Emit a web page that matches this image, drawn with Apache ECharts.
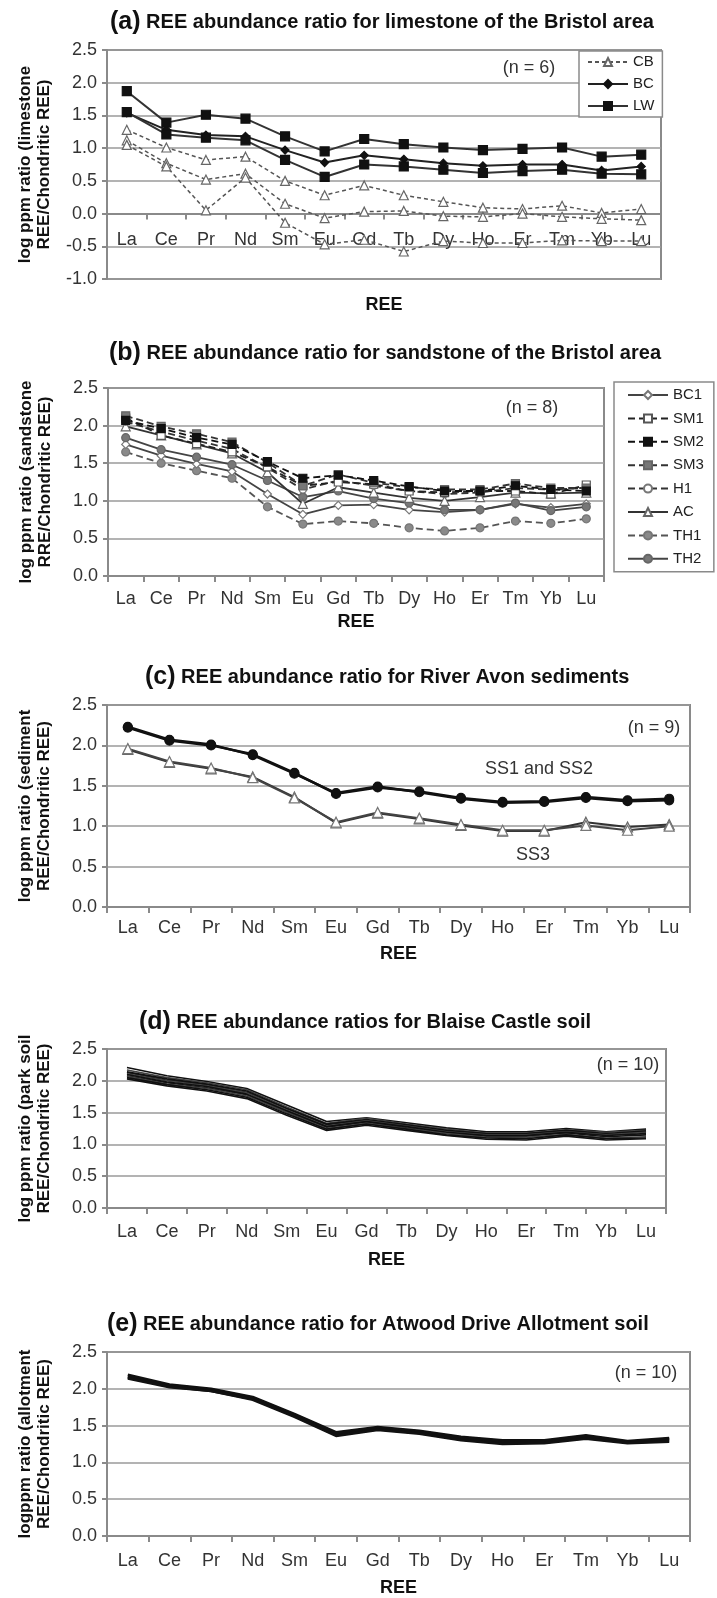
<!DOCTYPE html>
<html><head><meta charset="utf-8">
<script src="https://cdn.jsdelivr.net/npm/echarts@6/dist/echarts.min.js"></script>
<style>html,body{margin:0;padding:0;background:#fff}#c{width:717px;height:1598px}</style>
</head><body><div id="c"></div>
<script>
const categories = ['La','Ce','Pr','Nd','Sm','Eu','Gd','Tb','Dy','Ho','Er','Tm','Yb','Lu'];

// (a) limestone
const limeCB1 = [1.28,1.01,0.82,0.87,0.50,0.28,0.43,0.28,0.18,0.09,0.07,0.12,0.01,0.07];
const limeCB2 = [1.12,0.77,0.52,0.61,0.15,-0.07,0.03,0.04,-0.04,-0.05,0.00,-0.05,-0.08,-0.10];
const limeCB3 = [1.05,0.72,0.05,0.55,-0.14,-0.47,-0.40,-0.58,-0.42,-0.45,-0.45,-0.41,-0.42,-0.42];
const limeBC  = [1.54,1.28,1.20,1.18,0.97,0.78,0.89,0.83,0.77,0.73,0.75,0.75,0.66,0.72];
const limeLW1 = [1.87,1.39,1.51,1.45,1.18,0.95,1.14,1.06,1.01,0.97,0.99,1.01,0.87,0.90];
const limeLW2 = [1.55,1.21,1.16,1.12,0.82,0.56,0.75,0.72,0.67,0.62,0.65,0.67,0.61,0.60];

// (b) sandstone
const sandBC1 = [1.75,1.60,1.49,1.39,1.09,0.82,0.94,0.95,0.88,0.85,0.88,0.96,0.91,0.96];
const sandSM1 = [2.10,1.87,1.76,1.65,1.45,1.20,1.25,1.22,1.13,1.11,1.13,1.13,1.09,1.21];
const sandSM2 = [2.07,1.96,1.84,1.75,1.52,1.30,1.34,1.27,1.19,1.13,1.13,1.20,1.15,1.13];
const sandSM3 = [2.13,1.99,1.89,1.78,1.51,1.20,1.35,1.24,1.18,1.15,1.15,1.23,1.17,1.17];
const sandH1  = [2.05,1.92,1.80,1.69,1.44,1.15,1.27,1.20,1.13,1.09,1.11,1.17,1.15,1.17];
const sandAC  = [1.99,1.87,1.75,1.63,1.38,0.96,1.18,1.11,1.04,1.00,1.05,1.11,1.10,1.11];
const sandTH1 = [1.65,1.50,1.40,1.30,0.92,0.69,0.73,0.70,0.64,0.60,0.64,0.73,0.70,0.76];
const sandTH2 = [1.84,1.68,1.58,1.48,1.27,1.05,1.13,1.03,0.97,0.88,0.88,0.97,0.87,0.92];

// (c) River Avon sediments
const sedSS1  = [2.22,2.06,2.00,1.89,1.66,1.40,1.48,1.43,1.35,1.30,1.31,1.36,1.32,1.34];
const sedSS2  = [2.23,2.07,2.01,1.88,1.65,1.41,1.49,1.42,1.34,1.29,1.30,1.35,1.31,1.32];
const sedSS3a = [1.95,1.79,1.71,1.61,1.36,1.04,1.16,1.09,1.01,0.94,0.94,1.05,0.99,1.02];
const sedSS3b = [1.96,1.80,1.72,1.60,1.35,1.05,1.17,1.10,1.02,0.95,0.95,1.01,0.95,1.00];

// (d) Blaise Castle soil
const parkD1  = [2.21,2.08,1.99,1.88,1.62,1.36,1.42,1.34,1.26,1.20,1.20,1.25,1.20,1.24];
const parkD2  = [2.17,2.05,1.97,1.86,1.59,1.33,1.41,1.32,1.24,1.18,1.18,1.23,1.19,1.22];
const parkD3  = [2.14,2.03,1.95,1.84,1.57,1.32,1.39,1.31,1.22,1.17,1.17,1.22,1.17,1.21];
const parkD4  = [2.13,2.01,1.94,1.82,1.56,1.31,1.38,1.30,1.21,1.16,1.16,1.21,1.16,1.20];
const parkD5  = [2.11,2.00,1.92,1.81,1.54,1.29,1.37,1.29,1.20,1.15,1.15,1.20,1.15,1.19];
const parkD6  = [2.10,1.98,1.91,1.79,1.53,1.28,1.36,1.28,1.19,1.14,1.14,1.19,1.14,1.17];
const parkD7  = [2.08,1.97,1.89,1.78,1.51,1.27,1.35,1.26,1.18,1.13,1.13,1.18,1.12,1.15];
const parkD8  = [2.07,1.95,1.88,1.76,1.50,1.25,1.33,1.25,1.17,1.11,1.11,1.16,1.10,1.12];
const parkD9  = [2.05,1.94,1.86,1.74,1.48,1.24,1.32,1.24,1.15,1.10,1.09,1.15,1.09,1.10];
const parkD10 = [2.03,1.92,1.84,1.72,1.46,1.22,1.30,1.22,1.14,1.08,1.07,1.13,1.07,1.09];

// (e) Atwood Drive Allotment soil
const allotE1 = [2.19,2.06,2.00,1.89,1.66,1.41,1.48,1.43,1.35,1.30,1.30,1.37,1.29,1.33];
const allotE2 = [2.17,2.05,1.99,1.88,1.65,1.40,1.47,1.42,1.34,1.29,1.29,1.36,1.28,1.32];
const allotE3 = [2.16,2.04,1.98,1.87,1.64,1.39,1.46,1.41,1.33,1.28,1.28,1.35,1.28,1.31];
const allotE4 = [2.15,2.03,1.97,1.86,1.63,1.37,1.45,1.40,1.31,1.26,1.27,1.33,1.27,1.29];
const allotE5 = [2.14,2.02,1.97,1.85,1.62,1.36,1.44,1.39,1.30,1.25,1.26,1.32,1.26,1.28];

const panelTitles = [
  ['(a)', 'REE abundance ratio for limestone of the Bristol area'],
  ['(b)', 'REE abundance ratio for sandstone of the Bristol area'],
  ['(c)', 'REE abundance ratio for River Avon sediments'],
  ['(d)', 'REE abundance ratios for Blaise Castle soil'],
  ['(e)', 'REE abundance ratio for Atwood Drive Allotment soil']
];
const yNames = [
  'log ppm ratio (limestone\nREE/Chondritic REE)',
  'log ppm ratio (sandstone\nRRE/Chondritic REE)',
  'log ppm ratio (sediment\nREE/Chondritic REE)',
  'log ppm ratio (park soil\nREE/Chondritic REE)',
  'logppm ratio (allotment\nREE/Chondritic REE)'
];
const yMins = [-1, 0, 0, 0, 0];
const yMax = 2.5;
const xName = 'REE';
const nLabels = ['(n = 6)', '(n = 8)', '(n = 9)', '(n = 10)', '(n = 10)'];

// ---- layout (pixels) ----
const FONT = "'Liberation Sans', Arial, sans-serif";
const grids = [
  {left:107, top:50,   width:554, height:229},
  {left:108, top:388,  width:496, height:188},
  {left:107, top:705,  width:583, height:202},
  {left:107, top:1049, width:559, height:159},
  {left:107, top:1352, width:583, height:185}
];
const titlePos = [[110,8],[109,339],[145,663],[139,1008],[107,1310]];
const xNameGap = [17, 37, 38, 43, 43];
const xLabelMargin = [-48, 14, 12, 15, 16];
const nPos = [[529,68],[532,408],[654,728],[628,1065],[646,1373]];

const GRID_C = '#8a8a8a';

const option = {
  animation: false,
  backgroundColor: '#fff',
  textStyle: {fontFamily: FONT},
  title: panelTitles.map((t, i) => ({
    text: '{p|' + t[0] + '} ' + t[1],
    left: titlePos[i][0], top: titlePos[i][1], padding: 0,
    textStyle: {fontSize: 20, fontWeight: 'bold', color: '#111', fontFamily: FONT, lineHeight: 28,
      rich: {p: {fontSize: 25, fontWeight: 'bold', color: '#111', fontFamily: FONT, lineHeight: 28}}}
  })),
  grid: grids.map(g => Object.assign({show: true, borderColor: GRID_C, borderWidth: 2, backgroundColor: '#fff', containLabel: false}, g)),
  xAxis: grids.map((g, i) => ({
    type: 'category', gridIndex: i, data: categories, boundaryGap: true,
    name: xName, nameLocation: 'middle', nameGap: xNameGap[i],
    nameTextStyle: {fontSize: 18, fontWeight: 'bold', color: '#111', fontFamily: FONT},
    axisLine: {show: true, onZero: true, lineStyle: {color: GRID_C, width: 2}},
    axisTick: {show: true, inside: false, length: 6, lineStyle: {color: GRID_C, width: 2}},
    axisLabel: {interval: 0, margin: xLabelMargin[i], fontSize: 18, color: '#333', fontFamily: FONT},
    splitLine: {show: false}
  })),
  yAxis: grids.map((g, i) => ({
    type: 'value', gridIndex: i, min: yMins[i], max: yMax, interval: 0.5,
    name: yNames[i], nameLocation: 'middle', nameGap: 53,
    nameTextStyle: {fontSize: 17, fontWeight: 'bold', color: '#111', lineHeight: 19, fontFamily: FONT},
    axisLine: {show: true, lineStyle: {color: GRID_C, width: 2}},
    axisTick: {show: true, length: 5, lineStyle: {color: GRID_C, width: 2}},
    axisLabel: {margin: 10, fontSize: 18, color: '#333', fontFamily: FONT, formatter: v => v.toFixed(1)},
    splitLine: {show: true, lineStyle: {color: '#9a9a9a', width: 1.5}}
  })),
  legend: [
    {
      data: ['CB', 'BC', 'LW'], orient: 'vertical', left: 579, top: 51,
      padding: [3, 8, 3, 8], itemGap: 6, itemWidth: 40, itemHeight: 10,
      backgroundColor: '#fff', borderColor: GRID_C, borderWidth: 1.5, selectedMode: false,
      textStyle: {fontSize: 15, color: '#222', lineHeight: 16, fontFamily: FONT}
    },
    {
      data: ['BC1', 'SM1', 'SM2', 'SM3', 'H1', 'AC', 'TH1', 'TH2'], orient: 'vertical', left: 614, top: 382,
      padding: [5, 10, 5, 13], itemGap: 7.4, itemWidth: 40, itemHeight: 10,
      backgroundColor: '#fff', borderColor: GRID_C, borderWidth: 1.5, selectedMode: false,
      textStyle: {fontSize: 15, color: '#222', lineHeight: 16, fontFamily: FONT}
    }
  ],
  graphic: nLabels.map((t, i) => ({
    type: 'text', x: nPos[i][0], y: nPos[i][1], z: 100,
    style: {text: t, fontSize: 18, fontFamily: FONT, fill: '#333', align: 'center', verticalAlign: 'middle'}
  })).concat([
    {type: 'text', x: 539, y: 769, z: 100, style: {text: 'SS1 and SS2', fontSize: 18, fontFamily: FONT, fill: '#333', align: 'center', verticalAlign: 'middle'}},
    {type: 'text', x: 533, y: 855, z: 100, style: {text: 'SS3', fontSize: 18, fontFamily: FONT, fill: '#333', align: 'center', verticalAlign: 'middle'}}
  ]),
  series: []
};

function S(name, data, gi, lineColor, lineWidth, lineType, symbol, symbolSize, fill, border) {
  return {
    type: 'line', name: name, data: data, xAxisIndex: gi, yAxisIndex: gi,
    symbol: symbol, symbolSize: symbolSize, showSymbol: symbol !== 'none',
    lineStyle: {color: lineColor, width: lineWidth, type: lineType},
    itemStyle: {color: fill, borderColor: border, borderWidth: symbol === 'none' ? 0 : 1.2, opacity: 1},
    emphasis: {disabled: true}, silent: true, z: 3
  };
}
const dashCB = [4, 3];
const dashB = [7, 4];
option.series.push(
  S('CB', limeCB1, 0, '#555', 1.5, dashCB, 'triangle', 9, '#fff', '#666'),
  S('CB', limeCB2, 0, '#555', 1.5, dashCB, 'triangle', 9, '#fff', '#666'),
  S('CB', limeCB3, 0, '#555', 1.5, dashCB, 'triangle', 9, '#fff', '#666'),
  S('BC', limeBC, 0, '#222', 2, 'solid', 'diamond', 8, '#111', '#111'),
  S('LW', limeLW1, 0, '#333', 2, 'solid', 'rect', 9, '#111', '#111'),
  S('LW', limeLW2, 0, '#333', 2, 'solid', 'rect', 9, '#111', '#111'),

  S('TH1', sandTH1, 1, '#555', 1.8, dashB, 'circle', 8, '#8a8a8a', '#777'),
  S('BC1', sandBC1, 1, '#444', 1.8, 'solid', 'diamond', 8, '#fff', '#777'),
  S('TH2', sandTH2, 1, '#444', 1.8, 'solid', 'circle', 8, '#777', '#666'),
  S('AC', sandAC, 1, '#333', 1.8, 'solid', 'triangle', 9, '#fff', '#666'),
  S('H1', sandH1, 1, '#333', 1.8, dashB, 'circle', 7, '#fff', '#777'),
  S('SM1', sandSM1, 1, '#222', 1.8, dashB, 'rect', 8, '#fff', '#555'),
  S('SM3', sandSM3, 1, '#333', 1.8, dashB, 'rect', 8, '#777', '#666'),
  S('SM2', sandSM2, 1, '#111', 1.8, dashB, 'rect', 8, '#111', '#111'),

  S('SS3 a', sedSS3a, 2, '#333', 2, 'solid', 'triangle', 10, '#fff', '#666'),
  S('SS3 b', sedSS3b, 2, '#444', 2, 'solid', 'triangle', 10, '#fff', '#777'),
  S('SS1', sedSS1, 2, '#111', 2.5, 'solid', 'circle', 9, '#111', '#111'),
  S('SS2', sedSS2, 2, '#111', 2.5, 'solid', 'circle', 9, '#111', '#111')
);
[parkD1, parkD2, parkD3, parkD4, parkD5, parkD6, parkD7, parkD8, parkD9, parkD10].forEach((d, k) =>
  option.series.push(S('park ' + (k + 1), d, 3, k % 3 === 1 ? '#444' : '#111', 1.6, 'solid', 'none', 0, '#111', '#111')));
[allotE1, allotE2, allotE3, allotE4, allotE5].forEach((d, k) =>
  option.series.push(S('allot ' + (k + 1), d, 4, '#111', 2.5, 'solid', 'none', 0, '#111', '#111')));

const chart = echarts.init(document.getElementById('c'), null, {renderer: 'canvas'});
chart.setOption(option);
</script>
</body></html>
